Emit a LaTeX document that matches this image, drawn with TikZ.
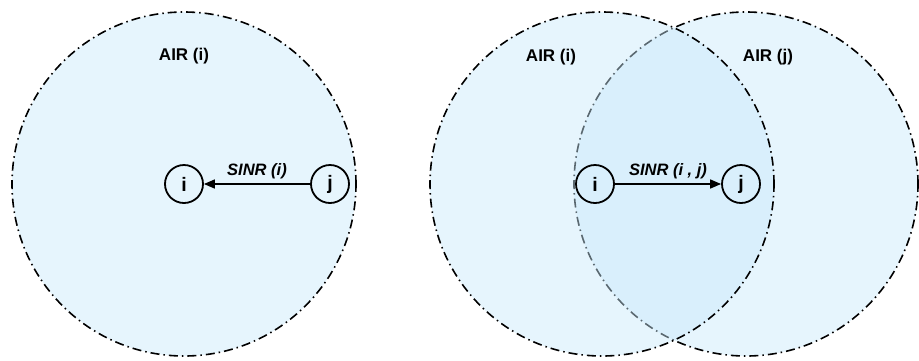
\documentclass[tikz,border=0pt]{standalone}
\usepackage{fontspec}
\setmainfont{Liberation Sans}
\usetikzlibrary{arrows.meta,positioning}
\definecolor{airblue}{RGB}{200,232,250}

\begin{document}
\begin{tikzpicture}[
    x=1pt, y=-1pt,
    area/.style={circle, draw, line width=1.6pt, inner sep=0pt, minimum size=344pt,
                 dash pattern=on 9pt off 4pt on 1.5pt off 4pt,
                 fill=airblue, fill opacity=0.45, draw opacity=1},
    stn/.style={circle, draw, line width=1.8pt, inner sep=0pt, minimum size=38pt,
                font=\fontsize{19.5}{22}\selectfont\bfseries},
    air/.style={font=\fontsize{17}{20}\selectfont\bfseries},
    sinr/.style={font=\fontsize{16.5}{19}\selectfont\bfseries\itshape, above=1pt},
    link/.style={line width=1.6pt, -{Triangle[length=11pt,width=9pt]}}
]
\useasboundingbox (0,0) rectangle (919,360);
% single station
\node[area] (airA) at (184,184) {};
\node[air] (airAlbl) at (184,56) {AIR (i)};
\node[stn] (iA) at (184,184) {i};
\node[stn] (jA) at (330,184) {j};
\draw[link] (jA) -- (iA) node[midway, sinr] (sinrA) {SINR (i)};
% two stations
\node[area] (airJ) at (746,184) {};
\node[area] (airI) at (602,184) {};
\node[air] (airIlbl) at (551,57) {AIR (i)};
\node[air] (airJlbl) at (768,57) {AIR (j)};
\node[stn] (iB) at (595,184) {i};
\node[stn] (jB) at (741,184) {j};
\draw[link] (iB) -- (jB) node[midway, sinr] (sinrB) {SINR (i , j)};
\end{tikzpicture}
\end{document}
